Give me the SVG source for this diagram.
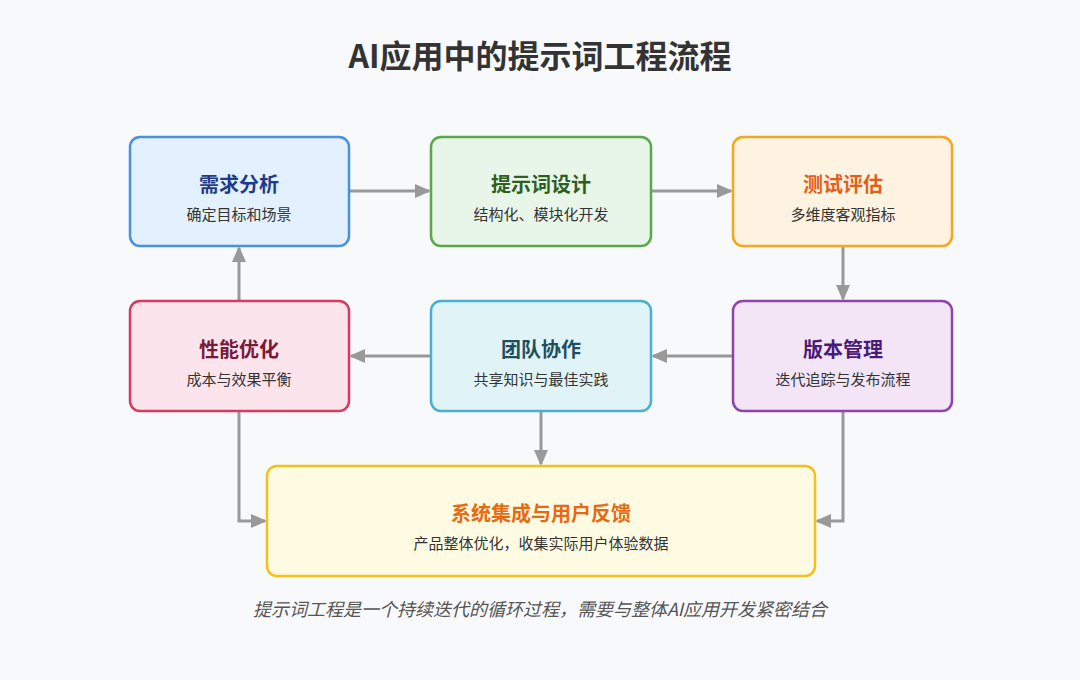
<svg xmlns="http://www.w3.org/2000/svg" width="1080" height="680" viewBox="0 0 1080 680">
<defs>
<marker id="ah" markerWidth="16" markerHeight="16" refX="14" refY="8" orient="auto" markerUnits="userSpaceOnUse" viewBox="0 0 16 16"><path d="M0,1 L16,8 L0,15 z" fill="#999"/></marker>
<style>
.t{font-family:"Noto Sans CJK SC","Noto Sans",sans-serif;font-weight:bold;font-size:20px;text-anchor:middle}
.s{font-family:"Noto Sans CJK SC","Noto Sans",sans-serif;font-size:15px;fill:#333;text-anchor:middle}
.c{fill:none;stroke:#999;stroke-width:3}
</style>
</defs>
<rect width="1080" height="680" fill="#f8f9fa"/>
<text x="540" y="68" font-family="Noto Sans CJK SC,sans-serif" font-weight="bold" font-size="32" fill="#333" text-anchor="middle">AI应用中的提示词工程流程</text>
<g id="connectors">
<path class="c" d="M350,191 H429" marker-end="url(#ah)"/>
<path class="c" d="M652,191 H731" marker-end="url(#ah)"/>
<path class="c" d="M843,247 V299" marker-end="url(#ah)"/>
<path class="c" d="M732,356 H653" marker-end="url(#ah)"/>
<path class="c" d="M430,356 H351" marker-end="url(#ah)"/>
<path class="c" d="M239,300 V248" marker-end="url(#ah)"/>
<path class="c" d="M541,412 V464" marker-end="url(#ah)"/>
<path class="c" d="M239,412 V521 H265" marker-end="url(#ah)"/>
<path class="c" d="M843,412 V521 H817" marker-end="url(#ah)"/>
</g>
<g id="n1"><rect x="130" y="137" width="219" height="109" rx="10" fill="#e3f0fd" stroke="#4a90e2" stroke-width="2.5"/><text class="t" x="239" y="192" fill="#1f3a8a">需求分析</text><text class="s" x="239" y="220">确定目标和场景</text></g>
<g id="n2"><rect x="431" y="137" width="220" height="109" rx="10" fill="#e8f5e9" stroke="#5aa84a" stroke-width="2.5"/><text class="t" x="541" y="192" fill="#2e5e20">提示词设计</text><text class="s" x="541" y="220">结构化、模块化开发</text></g>
<g id="n3"><rect x="733" y="137" width="219" height="109" rx="10" fill="#fdf3e0" stroke="#f5a623" stroke-width="2.5"/><text class="t" x="843" y="192" fill="#e0601a">测试评估</text><text class="s" x="843" y="220">多维度客观指标</text></g>
<g id="n4"><rect x="733" y="301" width="219" height="110" rx="10" fill="#f3e5f5" stroke="#8e44ad" stroke-width="2.5"/><text class="t" x="843" y="357" fill="#4a1a7a">版本管理</text><text class="s" x="843" y="385">迭代追踪与发布流程</text></g>
<g id="n5"><rect x="431" y="301" width="220" height="110" rx="10" fill="#e0f4f8" stroke="#4ab0d0" stroke-width="2.5"/><text class="t" x="541" y="357" fill="#1f4f5f">团队协作</text><text class="s" x="541" y="385">共享知识与最佳实践</text></g>
<g id="n6"><rect x="130" y="301" width="219" height="110" rx="10" fill="#fbe4ec" stroke="#d63a66" stroke-width="2.5"/><text class="t" x="239" y="357" fill="#7a1a3a">性能优化</text><text class="s" x="239" y="385">成本与效果平衡</text></g>
<g id="n7"><rect x="267" y="466" width="548" height="110" rx="10" fill="#fffbe3" stroke="#f2c21b" stroke-width="2.5"/><text class="t" x="541" y="521" fill="#e86a10">系统集成与用户反馈</text><text class="s" x="541" y="549">产品整体优化，收集实际用户体验数据</text></g>
<text x="540" y="616" font-family="Noto Sans CJK SC,sans-serif" font-style="italic" font-size="18" fill="#555" text-anchor="middle">提示词工程是一个持续迭代的循环过程，需要与整体AI应用开发紧密结合</text>
</svg>
